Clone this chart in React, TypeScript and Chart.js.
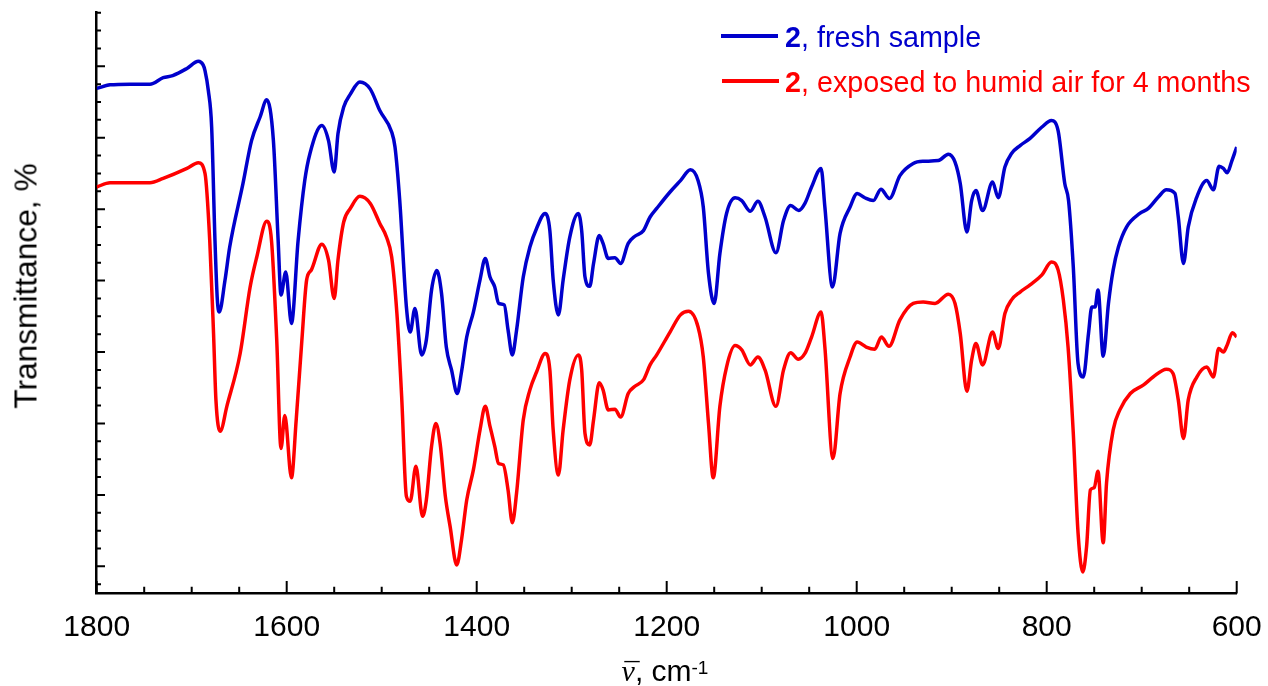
import React, { useEffect, useRef } from 'react';
import { Chart, registerables } from 'chart.js';

Chart.register(...registerables);

// ---- data (wavenumber, cm-1 / transmittance, arbitrary offset %) ----
const BLUE_WN = [
  1800, 1786, 1765, 1744, 1730, 1720, 1705, 1693, 1688, 1686, 1682.5, 1679, 1675.5, 1673, 1671, 1665, 1660,
  1646, 1637, 1628, 1621, 1614, 1609, 1606, 1601, 1595, 1588, 1581, 1575.5, 1563, 1556, 1550, 1546, 1540,
  1533, 1523, 1512, 1502, 1489.5, 1486, 1481, 1474, 1470, 1465, 1458, 1453, 1447.5, 1442, 1437, 1432,
  1426.5, 1420.5, 1416, 1410.5, 1403.5, 1396.5, 1391, 1386, 1381, 1377, 1371, 1367, 1362.5, 1358, 1351,
  1344, 1337, 1328, 1323, 1319.5, 1314, 1309, 1302, 1293, 1289.5, 1286, 1281, 1277, 1271, 1267, 1261.5,
  1254.5, 1248.5, 1240.5, 1233.5, 1224.5, 1217.5, 1210.5, 1196.5, 1185.5, 1175, 1167, 1161.5, 1156, 1150,
  1144, 1137, 1128, 1121, 1112, 1104, 1096.5, 1085, 1077, 1069.5, 1061, 1054.5, 1047.5, 1037.5, 1033.5,
  1025.5, 1017.5, 1007, 999.5, 991.5, 982.5, 974.5, 965.5, 954.5, 940.5, 930, 914, 903.5, 896.5, 891, 884,
  879, 874.5, 867.5, 857, 851, 844, 837, 828, 817.5, 805, 795, 788, 781, 777, 772, 767, 761.5, 756, 752.5,
  749, 746, 740.5, 735, 730, 724.5, 716, 702, 693, 682.5, 674, 665, 661.5, 656, 651, 642, 631.5, 624.5,
  618.5, 614, 610, 605, 600,
];
const BLUE_T = [
  66.9, 67.4, 67.5, 67.5, 68.4, 68.7, 69.7, 70.7, 70.2, 69.4, 66.6, 61.5, 45.6, 37.3, 35.6, 40.0, 44.7,
  53.6, 59.6, 62.9, 65.3, 59.6, 45.6, 38.0, 41.2, 34.0, 45.6, 54.0, 57.8, 61.7, 59.6, 55.2, 60.6, 64.3,
  66.1, 67.8, 66.8, 63.8, 60.8, 58.7, 51.2, 36.3, 32.8, 36.1, 29.6, 31.7, 38.7, 41.4, 38.2, 30.7,
  27.5, 24.2, 27.2, 32.1, 35.6, 40.1, 43.1, 40.5, 39.1, 36.8, 36.6, 33.1, 29.6, 33.1, 40.5,
  44.7, 47.3, 49.4, 47.0, 40.1, 35.2, 40.1, 46.1, 49.4, 47.0, 40.5, 39.2, 42.4, 46.3, 45.2, 43.1,
  43.2, 42.4, 45.2, 46.2, 47.0, 48.9, 50.1, 52.4, 54.0, 55.5, 54.0, 50.3, 41.0, 36.8,
  43.8, 49.4, 51.6, 51.2, 49.7, 51.1, 48.9, 43.9, 48.4, 50.5, 49.8, 50.8, 53.1, 55.7, 50.3,
  39.1, 46.6, 50.3, 52.2, 51.6, 51.2, 52.8, 51.5, 54.7, 56.4, 56.7, 56.8, 57.7, 56.6, 53.6, 46.8,
  51.2, 52.6, 49.8, 53.8, 51.6, 55.9, 57.8, 58.9, 59.9, 61.5, 62.4, 61.0, 53.6, 51.2, 41.9, 28.4, 26.5, 32.6, 36.3,
  36.3, 38.7, 29.4, 36.8, 41.5, 44.7, 47.5, 49.4, 50.1, 51.7, 52.7, 52.2, 48.9, 42.4, 47.5, 51.7, 54.0, 52.7,
  56.0, 55.7, 55.1, 56.8, 58.7,
];

const RED_WN = [
  1800, 1786, 1765, 1744, 1730, 1705, 1693, 1686, 1681, 1677, 1674.5, 1670, 1663, 1649, 1638.5, 1631.5,
  1621, 1616, 1610.5, 1606, 1602, 1595, 1590, 1584, 1579, 1574, 1563, 1556, 1550, 1546, 1540, 1533, 1523,
  1512, 1502, 1495, 1489.5, 1484, 1479, 1474, 1470, 1464, 1457, 1453, 1447.5, 1443, 1438.5, 1433, 1428,
  1421, 1416, 1410.5, 1403.5, 1396.5, 1391, 1386, 1381, 1377, 1372, 1367, 1362.5, 1358, 1351, 1344, 1337,
  1328, 1323, 1319.5, 1314, 1309, 1302, 1293, 1289.5, 1286, 1281, 1277, 1271, 1267, 1261.5, 1254.5, 1248.5,
  1240.5, 1233.5, 1224.5, 1217.5, 1210.5, 1196.5, 1185.5, 1177, 1167, 1161.5, 1156, 1151, 1144, 1137, 1128,
  1121, 1112, 1104, 1096.5, 1085, 1077, 1069.5, 1061.5, 1054.5, 1047.5, 1037.5, 1033.5, 1025, 1017.5, 1007,
  999.5, 990, 981, 974, 966, 954.5, 940.5, 930, 917.5, 903.5, 896.5, 891, 884, 879, 874.5, 867.5, 857, 851,
  844, 837, 828, 817.5, 805, 795, 788, 782.5, 777.5, 772, 767, 762, 758, 754, 750, 746, 740.5, 737, 730, 723,
  712, 698, 688, 674, 667, 661.5, 656, 651, 642, 631.5, 624.5, 619, 614, 610, 604.5, 600,
];
const RED_T = [
  53.1, 53.7, 53.7, 53.7, 54.3, 55.7, 56.5, 55.0, 45.6, 32.6, 23.3, 18.9, 22.4, 29.8, 39.1, 43.3,
  48.3, 45.6, 31.7, 16.5, 21.1, 12.4, 20.5, 31.7, 40.1, 41.5, 45.1, 42.9, 37.5, 42.9, 48.2, 50.1, 51.8,
  50.8, 48.0, 46.1, 43.3, 35.4, 23.8, 9.8, 9.1, 14.0, 7.0, 9.3, 16.8, 20.0, 17.2, 9.8, 5.6,
  0.2, 3.7, 9.3, 13.5, 19.1, 22.4, 19.6, 16.8, 14.4, 14.2, 10.7, 6.1, 10.3, 20.5, 24.7, 27.2,
  29.8, 27.5, 19.1, 12.8, 19.1, 26.1, 29.6, 27.5, 18.6, 17.0, 20.5, 25.7, 24.7, 21.9, 22.0, 20.9,
  24.2, 25.2, 26.1, 28.2, 29.6, 32.8, 35.2, 35.7, 33.5, 29.3, 20.0, 12.4, 22.4, 27.9, 30.9,
  30.3, 28.2, 29.3, 27.5, 22.4, 27.5, 29.9, 29.0, 29.8, 32.1, 35.6, 30.7, 15.1, 24.2, 29.3,
  31.4, 30.7, 30.4, 32.1, 30.8, 34.5, 36.8, 37.0, 36.8, 38.1, 36.8, 32.6, 24.5, 28.9, 31.2, 28.2, 32.8, 30.5,
  35.4, 37.3, 38.4, 39.4, 40.8, 42.6, 41.5, 37.3, 30.7, 18.6, 4.7, -0.8, 2.8, 10.7, 11.0, 13.3, 3.3, 11.7, 19.1, 21.9,
  24.2, 25.4, 26.5, 27.6, 27.0, 23.3, 17.9, 23.3, 26.5, 27.9, 26.5, 30.5, 30.0, 31.0, 32.7, 32.1,
];

const X_TICK_LABELS = [1800, 1600, 1400, 1200, 1000, 800, 600];
const X_MINOR_STEP = 50;
const Y_MINOR_STEP = 2.5;
const Y_MAJOR_STEP = 10;
const SERIES_NUMBER = '2';
const SERIES_LABELS = ['fresh sample', 'exposed to humid air for 4 months'];
const SERIES_COLORS = ['#0000CC', '#FF0000'];
const Y_TITLE = 'Transmittance, %';

const SANS = "'Liberation Sans', Arial, Helvetica, sans-serif";
const SERIF = "'Liberation Serif', 'DejaVu Serif', serif";

const W = 1268;
const H = 686;

const inwardTicks = {
  id: 'inwardTicks',
  afterDraw(chart: any) {
    const { ctx, chartArea, scales } = chart;
    const xs = scales.x;
    const ys = scales.y;
    ctx.save();
    ctx.strokeStyle = '#000';
    ctx.lineWidth = 2;
    ctx.beginPath();
    for (let v = xs.min; v <= xs.max + 1e-6; v += X_MINOR_STEP) {
      const px = xs.getPixelForValue(v);
      const len = X_TICK_LABELS.includes(v) ? 12.5 : 6.8;
      ctx.moveTo(px, chartArea.bottom);
      ctx.lineTo(px, chartArea.bottom - len);
    }
    const start = Math.ceil(ys.min / Y_MINOR_STEP) * Y_MINOR_STEP;
    for (let v = start; v <= ys.max + 1e-6; v += Y_MINOR_STEP) {
      const py = ys.getPixelForValue(v);
      const r = Math.abs(v % Y_MAJOR_STEP);
      const len = r < 1e-6 || Math.abs(r - Y_MAJOR_STEP) < 1e-6 ? 8.3 : 4.3;
      ctx.moveTo(chartArea.left, py);
      ctx.lineTo(chartArea.left + len, py);
    }
    ctx.stroke();
    ctx.restore();
  },
};

export default function App() {
  const ref = useRef<HTMLCanvasElement | null>(null);

  useEffect(() => {
    if (!ref.current) return;
    const blue = BLUE_WN.map((x, i) => ({ x, y: BLUE_T[i] }));
    const red = RED_WN.map((x, i) => ({ x, y: RED_T[i] }));
    const chart = new Chart(ref.current, {
      type: 'line',
      data: {
        datasets: [
          {
            label: SERIES_NUMBER + ', ' + SERIES_LABELS[0],
            data: blue,
            borderColor: SERIES_COLORS[0],
            borderWidth: 3.5,
            pointRadius: 0,
            cubicInterpolationMode: 'monotone',
            fill: false,
          },
          {
            label: SERIES_NUMBER + ', ' + SERIES_LABELS[1],
            data: red,
            borderColor: SERIES_COLORS[1],
            borderWidth: 3.5,
            pointRadius: 0,
            cubicInterpolationMode: 'monotone',
            fill: false,
          },
        ],
      },
      options: {
        animation: false,
        responsive: false,
        devicePixelRatio: 1,
        layout: { padding: { top: 12.7, right: 31.3, left: 0, bottom: 0 } },
        plugins: { legend: { display: false }, tooltip: { enabled: false } },
        scales: {
          x: {
            type: 'linear',
            reverse: true,
            min: 600,
            max: 1800,
            grid: { display: false, drawTicks: false },
            border: { display: true, color: '#000', width: 2.5 },
            ticks: {
              stepSize: X_MINOR_STEP,
              autoSkip: false,
              maxRotation: 0,
              padding: 16.5,
              color: '#000',
              font: { family: SANS, size: 30 },
              callback: (v: any) => (X_TICK_LABELS.includes(Number(v)) ? String(v) : ''),
            },
            afterFit: (s: any) => {
              s.height = 92.5;
              s.paddingLeft = 0;
              s.paddingRight = 0;
            },
          },
          y: {
            type: 'linear',
            min: -3.8,
            max: 77.5,
            grid: { display: false, drawTicks: false },
            border: { display: true, color: '#000', width: 2.5 },
            ticks: { display: false },
            afterFit: (s: any) => {
              s.width = 96.7;
              s.paddingTop = 0;
              s.paddingBottom = 0;
            },
          },
        },
      },
      plugins: [inwardTicks],
    } as any);
    return () => chart.destroy();
  }, []);

  const legendText = (i: number, top: number) => (
    <div
      style={{
        position: 'absolute',
        left: 785,
        top,
        font: `28.7px ${SANS}`,
        lineHeight: '28px',
        color: SERIES_COLORS[i],
        whiteSpace: 'nowrap',
      }}
    >
      <b>{SERIES_NUMBER}</b>, {SERIES_LABELS[i]}
    </div>
  );

  return (
    <div
      style={{
        position: 'fixed',
        left: 0,
        top: 0,
        width: W,
        height: H,
        background: '#fff',
        overflow: 'hidden',
      }}
    >
      <canvas ref={ref} width={W} height={H} style={{ display: 'block', width: W, height: H }} />
      {/* legend */}
      <div style={{ position: 'absolute', left: 721, top: 34, width: 57, height: 4, background: SERIES_COLORS[0] }} />
      {legendText(0, 22.5)}
      <div style={{ position: 'absolute', left: 722, top: 79, width: 57, height: 4, background: SERIES_COLORS[1] }} />
      {legendText(1, 67.5)}
      {/* y title */}
      <div
        style={{
          position: 'absolute',
          left: 26,
          top: 286,
          transform: 'translate(-50%, -50%) rotate(-90deg)',
          font: `31.7px ${SANS}`,
          color: '#000',
          whiteSpace: 'nowrap',
        }}
      >
        {Y_TITLE}
      </div>
      {/* x title */}
      <div
        style={{
          position: 'absolute',
          left: 665,
          top: 656,
          transform: 'translateX(-50%)',
          font: `30px ${SANS}`,
          lineHeight: '30px',
          color: '#000',
          whiteSpace: 'nowrap',
        }}
      >
        <span style={{ position: 'relative', display: 'inline-block', fontFamily: SERIF, fontStyle: 'italic' }}>
          {'\u03BD'}
          <span style={{ position: 'absolute', left: 3, top: 2, fontStyle: 'normal' }}>{'\u00AF'}</span>
        </span>
        , cm
        <span style={{ position: 'relative', top: -7, fontSize: 19 }}>-1</span>
      </div>
    </div>
  );
}
